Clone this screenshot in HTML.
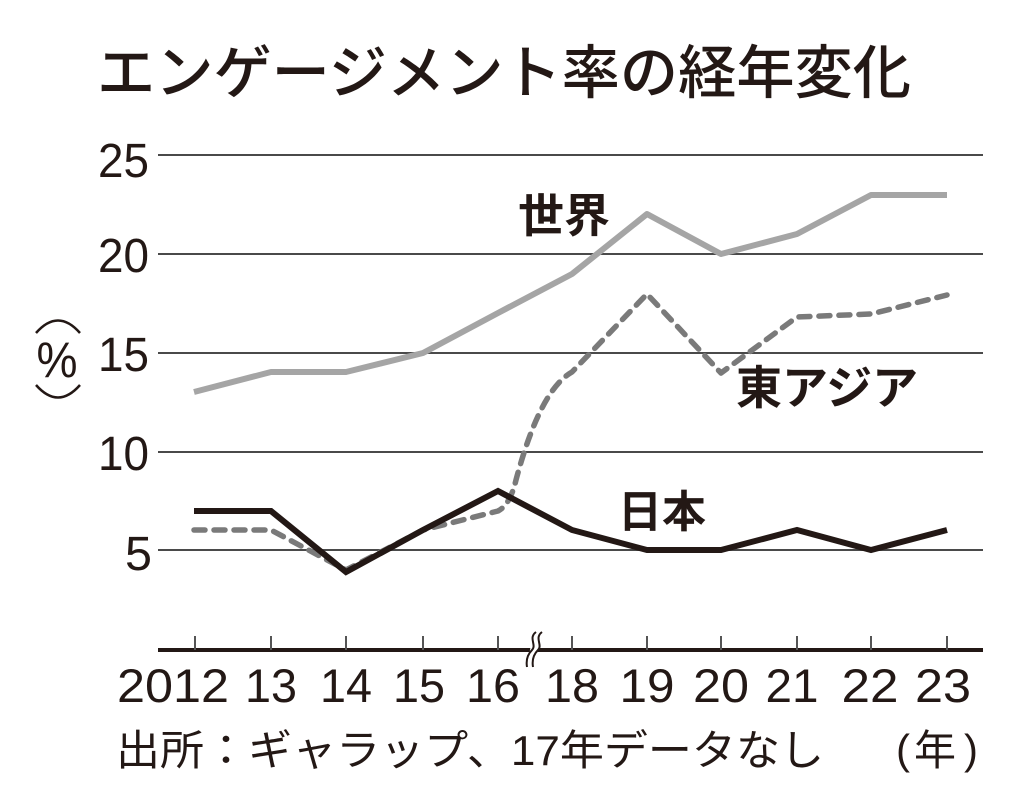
<!DOCTYPE html>
<html>
<head>
<meta charset="utf-8">
<style>
html,body{margin:0;padding:0;background:#fff;}
svg{display:block;}
.jp{font-family:"Liberation Sans","Noto Sans CJK JP",sans-serif;fill:#231815;}
.num{font-family:"Liberation Sans",sans-serif;fill:#231815;}
</style>
</head>
<body>
<svg width="1024" height="805" viewBox="0 0 1024 805" xmlns="http://www.w3.org/2000/svg">
  <rect width="1024" height="805" fill="#fff"/>
  <!-- Title -->
  <text class="jp" x="97" y="93" font-size="58" font-weight="500" textLength="814" lengthAdjust="spacingAndGlyphs">エンゲージメント率の経年変化</text>

  <!-- gridlines -->
  <g stroke="#4a4a4a" stroke-width="2">
    <line x1="158" y1="155" x2="983" y2="155"/>
    <line x1="158" y1="254" x2="983" y2="254"/>
    <line x1="158" y1="353" x2="983" y2="353"/>
    <line x1="158" y1="452" x2="983" y2="452"/>
    <line x1="158" y1="550" x2="983" y2="550"/>
  </g>

  <!-- y labels -->
  <g class="num" font-size="48" text-anchor="end">
    <text x="149" y="177" textLength="51" lengthAdjust="spacingAndGlyphs">25</text>
    <text x="149" y="272" textLength="51" lengthAdjust="spacingAndGlyphs">20</text>
    <text x="149" y="371" textLength="51" lengthAdjust="spacingAndGlyphs">15</text>
    <text x="149" y="470" textLength="51" lengthAdjust="spacingAndGlyphs">10</text>
    <text x="152" y="570" textLength="27" lengthAdjust="spacingAndGlyphs">5</text>
  </g>

  <!-- % unit -->
  <g fill="none" stroke="#231815" stroke-width="2.5">
    <path d="M36 333 Q58 308 80 333"/>
    <path d="M36 385 Q58 410 80 385"/>
  </g>
  <text class="num" x="57" y="377" font-size="50" text-anchor="middle" textLength="41" lengthAdjust="spacingAndGlyphs">%</text>

  <!-- axis -->
  <line x1="158" y1="650" x2="983" y2="650" stroke="#231815" stroke-width="4"/>
  <g stroke="#555" stroke-width="2">
    <line x1="195" y1="636" x2="195" y2="650"/>
    <line x1="271" y1="636" x2="271" y2="650"/>
    <line x1="346" y1="636" x2="346" y2="650"/>
    <line x1="423" y1="636" x2="423" y2="650"/>
    <line x1="498" y1="636" x2="498" y2="650"/>
    <line x1="572" y1="636" x2="572" y2="650"/>
    <line x1="647" y1="636" x2="647" y2="650"/>
    <line x1="721" y1="636" x2="721" y2="650"/>
    <line x1="797" y1="636" x2="797" y2="650"/>
    <line x1="871" y1="636" x2="871" y2="650"/>
    <line x1="947" y1="636" x2="947" y2="650"/>
  </g>
  <!-- break -->
  <polygon points="533,632 541,632 535,668 527,668" fill="#fff"/>
  <g fill="none" stroke="#231815" stroke-width="2">
    <path d="M536 632 C528 638, 537 645, 532 650 S526 661, 527 667"/>
    <path d="M542 632 C534 638, 543 645, 538 650 S532 661, 533 667"/>
  </g>

  <!-- x labels -->
  <g class="num" font-size="47" text-anchor="middle">
    <text x="173" y="702" textLength="112" lengthAdjust="spacingAndGlyphs">2012</text>
    <text x="271" y="702" textLength="52" lengthAdjust="spacingAndGlyphs">13</text>
    <text x="346" y="702" textLength="52" lengthAdjust="spacingAndGlyphs">14</text>
    <text x="419" y="702" textLength="52" lengthAdjust="spacingAndGlyphs">15</text>
    <text x="493" y="702" textLength="54" lengthAdjust="spacingAndGlyphs">16</text>
    <text x="572" y="702" textLength="54" lengthAdjust="spacingAndGlyphs">18</text>
    <text x="647" y="702" textLength="55" lengthAdjust="spacingAndGlyphs">19</text>
    <text x="721" y="702" textLength="56" lengthAdjust="spacingAndGlyphs">20</text>
    <text x="792" y="702" textLength="53" lengthAdjust="spacingAndGlyphs">21</text>
    <text x="870" y="702" textLength="57" lengthAdjust="spacingAndGlyphs">22</text>
    <text x="943" y="702" textLength="56" lengthAdjust="spacingAndGlyphs">23</text>
  </g>

  <!-- footnote -->
  <text class="jp" x="116" y="765" font-size="42" textLength="708" lengthAdjust="spacingAndGlyphs">出所：ギャラップ、17年データなし</text>
  <text class="num" x="896" y="764" font-size="42">(</text>
  <text class="jp" x="914" y="765" font-size="42">年</text>
  <text class="num" x="964" y="764" font-size="42">)</text>

  <!-- series: World -->
  <polyline fill="none" stroke="#a5a5a5" stroke-width="6" stroke-linejoin="round" stroke-linecap="butt"
    points="194,392 271,372 346,372 423,353 498,313 572,274 647,214 721,254 797,234 871,195 947,195"/>

  <!-- series: East Asia (dashed) -->
  <path fill="none" stroke="#7a7a7a" stroke-width="5.5" stroke-dasharray="11 9" stroke-linecap="round" stroke-linejoin="round"
    d="M194 530 L271 530 L346 570 L423 530 L498 511 Q510 505 516 480 Q540 390 572 372 L647 294 L721 373 L797 317 L871 314 L947 295"/>

  <!-- series: Japan -->
  <polyline fill="none" stroke="#231815" stroke-width="6" stroke-linejoin="miter" stroke-linecap="butt"
    points="194,511 271,511 346,572 423,530 498,491 572,530 647,550 721,550 797,530 871,550 947,530"/>

  <!-- series labels -->
  <text class="jp" x="518" y="232" font-size="46" font-weight="bold">世界</text>
  <text class="jp" x="736" y="404" font-size="46" font-weight="bold">東アジア</text>
  <text class="jp" x="618" y="527" font-size="44" font-weight="bold">日本</text>
</svg>
</body>
</html>
